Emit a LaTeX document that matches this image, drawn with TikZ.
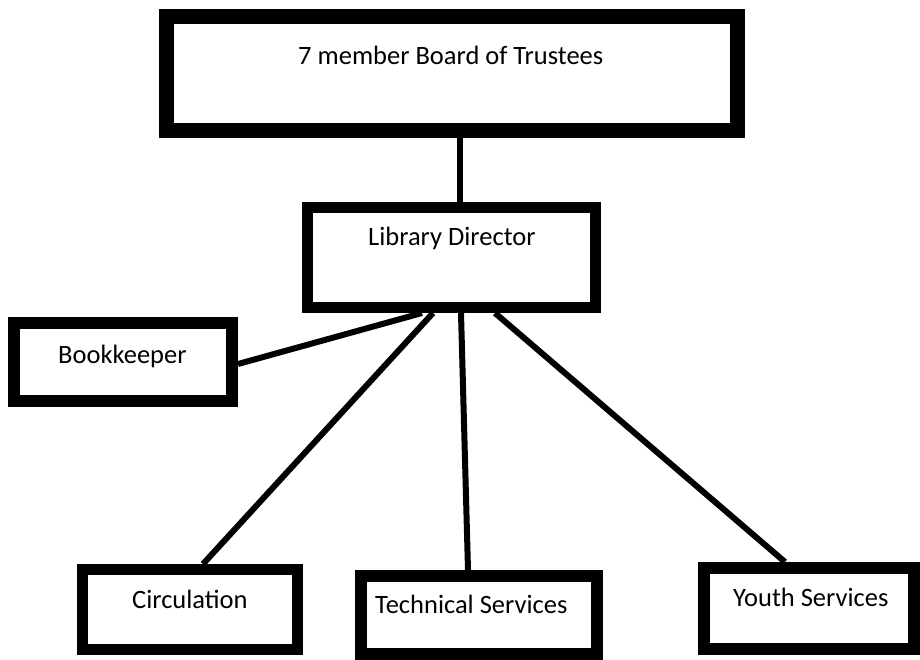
\documentclass[tikz,border=0pt]{standalone}
\usepackage{fontspec}
\setmainfont{Carlito}
\usetikzlibrary{backgrounds}
\begin{document}
\begin{tikzpicture}[x=1pt,y=-1pt,
  box/.style={draw=black,fill=white,rectangle,inner sep=0pt},
  lbl/.style={inner sep=0pt,anchor=base west,font=\fontsize{26.5}{32}\selectfont},
  conn/.style={draw=black,line width=6pt}]
\useasboundingbox (0,0) rectangle (920,660);
% boxes
\node[box,line width=15pt,minimum width=571pt,minimum height=114pt] (board) at (452,73.5) {};
\node[box,line width=11pt,minimum width=288pt,minimum height=100pt] (dir) at (451.5,257.5) {};
\node[box,line width=12pt,minimum width=218pt,minimum height=78pt] (book) at (123,362) {};
\node[box,line width=11pt,minimum width=215pt,minimum height=80pt] (circ) at (190,609.5) {};
\node[box,line width=12pt,minimum width=236pt,minimum height=78pt] (tech) at (479,615) {};
\node[box,line width=12pt,minimum width=210pt,minimum height=81pt] (youth) at (809,608.5) {};
% labels
\node[lbl] (tboard) at (298,65) {7 member Board of Trustees};
\node[lbl] (tdir) at (368,245) {Library Director};
\node[lbl] (tbook) at (58,363) {Bookkeeper};
\node[lbl] (tcirc) at (132,608) {Circulation};
\node[lbl] (ttech) at (375,613) {Technical Services};
\node[lbl] (tyouth) at (733,606) {Youth Services};
% connectors
\begin{scope}[on background layer]
\fill[white] (0,0) rectangle (920,660);
\draw[conn] ([xshift=8pt]board.south) -- ([xshift=8.5pt]dir.north);
\draw[conn] ([xshift=-29.5pt]dir.south) -- ([yshift=-2pt]book.east);
\draw[conn] ([xshift=-18.5pt]dir.south) -- ([xshift=13pt]circ.north);
\draw[conn] ([xshift=9.5pt]dir.south) -- ([xshift=-11pt]tech.north);
\draw[conn] ([xshift=43.5pt]dir.south) -- ([xshift=-24pt]youth.north);
\end{scope}
\end{tikzpicture}
\end{document}
